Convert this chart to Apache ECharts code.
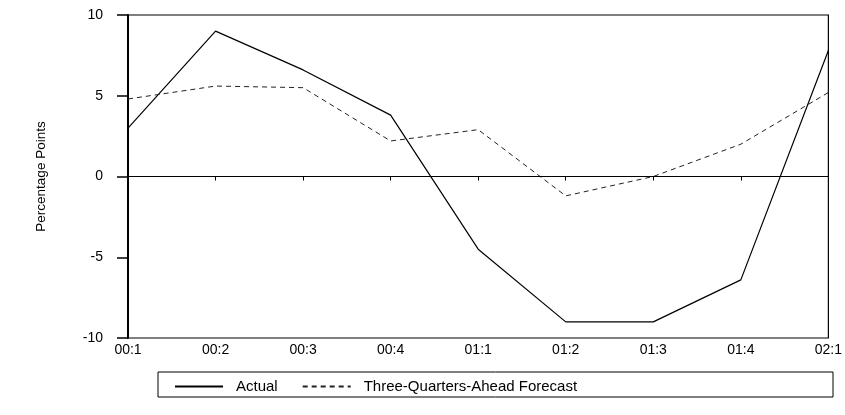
<!DOCTYPE html>
<html><head><meta charset="utf-8">
<script src="https://cdn.jsdelivr.net/npm/echarts@6/dist/echarts.min.js"></script>
<style>html,body{margin:0;padding:0;background:#fff}#c{width:845px;height:415px}</style>
</head><body><div id="c"></div>
<script>
var categories = ['00:1','00:2','00:3','00:4','01:1','01:2','01:3','01:4','02:1'];
var actual = [3.0, 9.0, 6.6, 3.8, -4.5, -9.0, -9.0, -6.4, 7.8];
var forecast = [4.8, 5.6, 5.5, 2.2, 2.9, -1.2, 0.0, 2.0, 5.2];
var yTicks = [-10, -5, 0, 5, 10];

var chart = echarts.init(document.getElementById('c'), null, {renderer:'canvas'});
var font = 'Liberation Sans, Arial, sans-serif';
chart.setOption({
  animation: false,
  backgroundColor: '#fff',
  grid: {left:128, right:11, top:15, bottom:77, show:true, borderColor:'#000', borderWidth:1.2, backgroundColor:'transparent'},
  xAxis: {
    type:'category', data: categories, boundaryGap:false,
    axisLine:{show:true, lineStyle:{color:'#000', width:1.2}},
    axisTick:{show:true, length:4, lineStyle:{color:'#000', width:1}},
    axisLabel:{color:'#000', fontSize:14, fontFamily:font, margin:5},
    splitLine:{show:false}
  },
  yAxis: {
    type:'value', min:yTicks[0], max:yTicks[yTicks.length-1], interval:5,
    name:'Percentage Points', nameLocation:'middle', nameGap:80, nameRotate:90,
    nameTextStyle:{color:'#000', fontSize:13.5, fontFamily:font},
    axisLine:{show:true, lineStyle:{color:'#000', width:2}},
    axisTick:{show:true, inside:false, length:11, lineStyle:{color:'#000', width:1.5}},
    axisLabel:{color:'#000', fontSize:14, fontFamily:font, margin:25},
    splitLine:{show:false}
  },
  legend: {
    left:169, top:374, itemWidth:48, itemHeight:10, itemGap:24,
    itemStyle:{opacity:0},
    textStyle:{color:'#000', fontSize:15, fontFamily:font, padding:[0,0,0,8]},
    data:['Actual','Three-Quarters-Ahead Forecast']
  },
  graphic: [{type:'rect', shape:{x:158, y:372, width:675, height:25}, style:{fill:'none', stroke:'#000', lineWidth:1}, silent:true}],
  series: [
    {name:'Actual', type:'line', data:actual, symbol:'none', lineStyle:{color:'#000', width:1.2, type:'solid'}, itemStyle:{color:'#000'},
     markLine:{silent:true, symbol:'none', label:{show:false}, lineStyle:{color:'#000', width:1, type:'solid'}, data:[{yAxis:0}]}},
    {name:'Three-Quarters-Ahead Forecast', type:'line', data:forecast, symbol:'none', lineStyle:{color:'#222', width:1, type:[5,4]}, itemStyle:{color:'#222'}}
  ]
});
</script></body></html>
